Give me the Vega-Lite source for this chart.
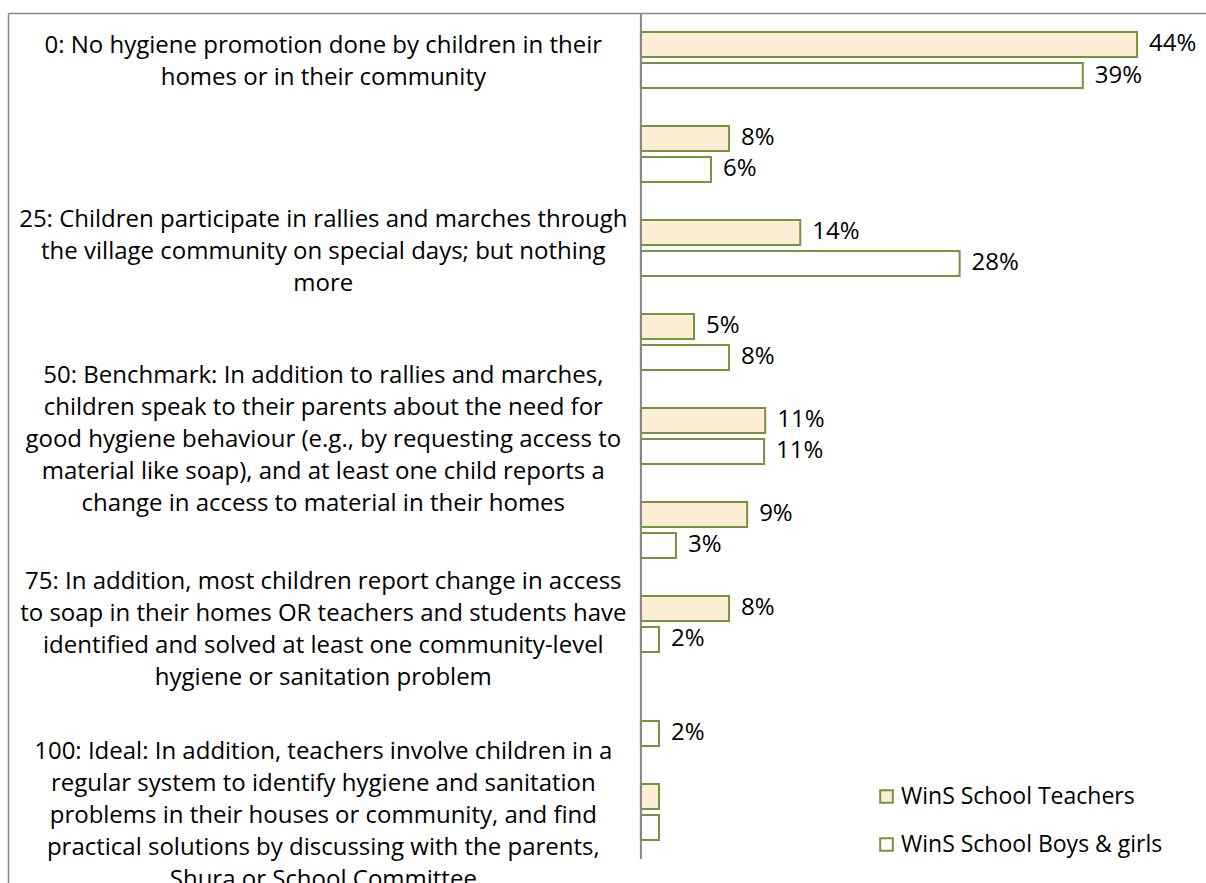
{
  "$schema": "https://vega.github.io/schema/vega-lite/v6.json",
  "width": 1198,
  "height": 870,
  "autosize": {"type": "none"},
  "padding": {"left": 8, "top": 13, "right": 0, "bottom": 0},
  "background": "white",
  "config": {"view": {"stroke": null}, "font": "Open Sans"},
  "datasets": {
    "levels": [
      {"level": "0", "description": "0: No hygiene promotion done by children in their|homes or in their community"},
      {"level": "12.5", "description": ""},
      {"level": "25", "description": "25: Children participate in rallies and marches through|the village community on special days; but nothing|more"},
      {"level": "37.5", "description": ""},
      {"level": "50", "description": "50: Benchmark: In addition to rallies and marches,|children speak to their parents about the need for|good hygiene behaviour (e.g., by requesting access to|material like soap), and at least one child reports a|change in access to material in their homes"},
      {"level": "62.5", "description": ""},
      {"level": "75", "description": "75: In addition, most children report change in access|to soap in their homes OR teachers and students have|identified and solved at least one community-level|hygiene or sanitation problem"},
      {"level": "87.5", "description": ""},
      {"level": "100", "description": "100: Ideal: In addition, teachers involve children in a|regular system to identify hygiene and sanitation|problems in their houses or community, and find|practical solutions by discussing with the parents,|Shura or School Committee"}
    ],
    "bars": [
      {"level": "0", "series": "WinS School Teachers", "value": 0.439},
      {"level": "0", "series": "WinS School Boys & girls", "value": 0.391},
      {"level": "12.5", "series": "WinS School Teachers", "value": 0.078},
      {"level": "12.5", "series": "WinS School Boys & girls", "value": 0.062},
      {"level": "25", "series": "WinS School Teachers", "value": 0.141},
      {"level": "25", "series": "WinS School Boys & girls", "value": 0.282},
      {"level": "37.5", "series": "WinS School Teachers", "value": 0.047},
      {"level": "37.5", "series": "WinS School Boys & girls", "value": 0.078},
      {"level": "50", "series": "WinS School Teachers", "value": 0.110},
      {"level": "50", "series": "WinS School Boys & girls", "value": 0.109},
      {"level": "62.5", "series": "WinS School Teachers", "value": 0.094},
      {"level": "62.5", "series": "WinS School Boys & girls", "value": 0.031},
      {"level": "75", "series": "WinS School Teachers", "value": 0.078},
      {"level": "75", "series": "WinS School Boys & girls", "value": 0.016},
      {"level": "87.5", "series": "WinS School Boys & girls", "value": 0.016},
      {"level": "100", "series": "WinS School Teachers", "value": 0.016},
      {"level": "100", "series": "WinS School Boys & girls", "value": 0.016}
    ]
  },
  "layer": [
    {
      "data": {"name": "levels"},
      "transform": [{"filter": "length(split(datum.description, '|')) == 2"}],
      "mark": {"type": "text", "align": "center", "baseline": "middle", "lineBreak": "|", "fontSize": 24, "lineHeight": 32, "font": "Open Sans", "color": "#000000", "dy": -14},
      "encoding": {
        "y": {"field": "level", "type": "nominal", "scale": {"domain": ["0", "12.5", "25", "37.5", "50", "62.5", "75", "87.5", "100"], "paddingInner": 0, "paddingOuter": 0.1277, "align": 0}, "axis": {"title": null, "labels": false, "ticks": false, "grid": false, "domainColor": "#888888", "domainWidth": 1.5}},
        "x": {"datum": -0.281, "type": "quantitative", "scale": {"domain": [-0.56, 0.5], "nice": false, "zero": false}, "axis": {"orient": "top", "title": null, "labels": false, "ticks": false, "grid": false, "domainColor": "#888888", "domainWidth": 1.5}},
        "text": {"field": "description"}
      }
    },
    {
      "data": {"name": "levels"},
      "transform": [{"filter": "length(split(datum.description, '|')) == 3"}],
      "mark": {"type": "text", "align": "center", "baseline": "middle", "lineBreak": "|", "fontSize": 24, "lineHeight": 32, "font": "Open Sans", "color": "#000000", "dy": -28},
      "encoding": {
        "y": {"field": "level", "type": "nominal"},
        "x": {"datum": -0.281, "type": "quantitative"},
        "text": {"field": "description"}
      }
    },
    {
      "data": {"name": "levels"},
      "transform": [{"filter": "length(split(datum.description, '|')) == 4"}],
      "mark": {"type": "text", "align": "center", "baseline": "middle", "lineBreak": "|", "fontSize": 24, "lineHeight": 32, "font": "Open Sans", "color": "#000000", "dy": -42},
      "encoding": {
        "y": {"field": "level", "type": "nominal"},
        "x": {"datum": -0.281, "type": "quantitative"},
        "text": {"field": "description"}
      }
    },
    {
      "data": {"name": "levels"},
      "transform": [{"filter": "length(split(datum.description, '|')) == 5"}],
      "mark": {"type": "text", "align": "center", "baseline": "middle", "lineBreak": "|", "fontSize": 24, "lineHeight": 32, "font": "Open Sans", "color": "#000000", "dy": -60},
      "encoding": {
        "y": {"field": "level", "type": "nominal"},
        "x": {"datum": -0.281, "type": "quantitative"},
        "text": {"field": "description"}
      }
    },
    {
      "data": {"name": "bars"},
      "mark": {"type": "bar", "stroke": "#77933C", "strokeWidth": 2},
      "encoding": {
        "y": {"field": "level", "type": "nominal"},
        "yOffset": {"field": "series", "type": "nominal", "scale": {"domain": ["WinS School Teachers", "WinS School Boys & girls"], "paddingInner": 0.194, "paddingOuter": 0.613}},
        "x": {"field": "value", "type": "quantitative"},
        "x2": {"datum": 0},
        "color": {
          "field": "series", "type": "nominal",
          "scale": {"domain": ["WinS School Teachers", "WinS School Boys & girls"], "range": ["#FCEED5", "#FFFFFF"]},
          "legend": {"orient": "none", "legendX": 867, "legendY": 772, "title": null, "symbolType": "square", "symbolSize": 160, "symbolStrokeColor": "#77933C", "symbolStrokeWidth": 2, "symbolOpacity": 1, "labelFont": "Open Sans", "labelFontSize": 23, "labelColor": "#000000", "labelOffset": 3, "labelLimit": 0, "rowPadding": 24, "padding": 0}
        }
      }
    },
    {
      "data": {"name": "bars"},
      "transform": [{"filter": "datum.level != '100'"}],
      "mark": {"type": "text", "align": "left", "baseline": "middle", "dx": 12, "fontSize": 24, "font": "Open Sans", "color": "#000000"},
      "encoding": {
        "y": {"field": "level", "type": "nominal"},
        "yOffset": {"field": "series", "type": "nominal"},
        "x": {"field": "value", "type": "quantitative"},
        "text": {"field": "value", "type": "quantitative", "format": ".0%"}
      }
    },
    {
      "data": {"values": [{}]},
      "mark": {"type": "rule", "color": "#888888", "strokeWidth": 2},
      "encoding": {
        "x": {"datum": 0, "type": "quantitative"},
        "y": {"datum": "0", "type": "nominal", "bandPosition": 0},
        "y2": {"datum": "100", "bandPosition": 1}
      }
    }
  ]
}
